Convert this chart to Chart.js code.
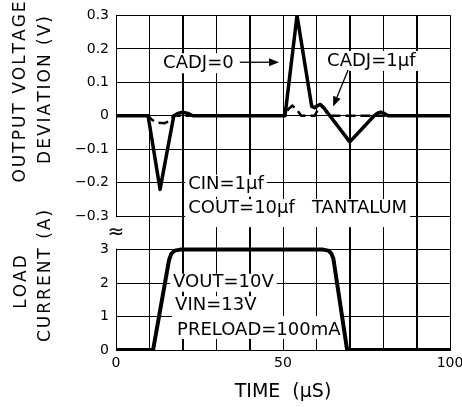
<!DOCTYPE html>
<html>
<head>
<meta charset="utf-8">
<script src="https://cdn.jsdelivr.net/npm/chart.js@4"></script>
<style>
  body { margin: 0; background: #fff; }
</style>
</head>
<body>
<canvas id="graphic" width="462" height="407"></canvas>
<script>
var timeLabels = [0, 50, 100];

// CADJ = 0 (solid)
var cadj0Time = [0, 9.6, 13.2, 17.3, 18.5, 20, 21.5, 23, 50.6, 54.2, 58.6, 59.5, 60.3, 61.2, 62.2, 70, 77.3, 78.3, 79.3, 80.3, 81.5, 100];
var cadj0Volt = [0, 0, -0.22, 0, 0.007, 0.011, 0.007, 0, 0, 0.3, 0.028, 0.024, 0.03, 0.034, 0.024, -0.078, 0, 0.008, 0.011, 0.007, 0, 0];

// CADJ = 1uF (dashed)
var cadj1Time = [0, 9.6, 10.8, 12, 14.5, 16, 17.3, 50.6, 51.6, 52.8, 54, 55.5, 59.5, 60.5, 61.5, 62.5, 63.5, 100];
var cadj1Volt = [0, 0, -0.012, -0.02, -0.022, -0.016, 0, 0, 0.02, 0.03, 0.02, 0, 0, 0.02, 0.028, 0.02, 0, 0];

// load current
var loadTime = [0, 11.1, 15.9, 16.6, 17.6, 19.2, 62, 63.6, 64.5, 65.1, 69.2, 100];
var loadAmps = [0, 0, 2.7, 2.88, 2.97, 3, 3, 2.97, 2.88, 2.72, 0, 0];

var FONT = "'DejaVu Sans', sans-serif";

function points(xs, ys) {
    return xs.map(function (x, i) { return { x: x, y: ys[i] }; });
}

var notes = [
    { text: 'CADJ=0', x: 14.1, y: 0.157, axis: 'y', padTop: 3, padBottom: 3 },
    { text: 'CADJ=1µf', x: 63.2, y: 0.164, axis: 'y', padTop: 3, padBottom: 3 },
    { text: 'CIN=1µf', x: 21.6, y: -0.206, axis: 'y', padTop: 3, padBottom: 5 },
    { text: 'COUT=10µf   TANTALUM', x: 21.6, y: -0.276, axis: 'y', padTop: 2, padBottom: 12 },
    { text: 'VOUT=10V', x: 17.1, y: 2.01, axis: 'y2', padTop: 2, padBottom: 2 },
    { text: 'VIN=13V', x: 17.7, y: 1.34, axis: 'y2', padTop: 2, padBottom: 5 },
    { text: 'PRELOAD=100mA', x: 18.3, y: 0.6, axis: 'y2', padTop: 7, padBottom: 2 }
];

var arrows = [
    { from: [37.1, 0.16], to: [48.8, 0.16] },
    { from: [69.5, 0.137], to: [65.0, 0.028] }
];

var sideTitles = [
    { text: 'OUTPUT VOLTAGE', x: 21, y: 92 },
    { text: 'DEVIATION (V)', x: 45.5, y: 90 },
    { text: 'LOAD', x: 21.5, y: 282 },
    { text: 'CURRENT (A)', x: 46, y: 276 }
];

// text drawn one character at a time, centred on 0,0, with extra spacing
function spacedText(ctx, text, spacing) {
    var chars = text.split('');
    var widths = chars.map(function (ch) { return ctx.measureText(ch).width; });
    var total = widths.reduce(function (a, b) { return a + b; }, 0) + spacing * (chars.length - 1);
    var x = -total / 2;
    ctx.textAlign = 'left';
    chars.forEach(function (ch, i) {
        ctx.fillText(ch, x, 0);
        x += widths[i] + spacing;
    });
}

var overlay = {
    id: 'overlay',
    beforeDatasetsDraw: function (chart) {
        var ctx = chart.ctx;
        var xs = chart.scales.x, ys = chart.scales.y, y2 = chart.scales.y2;
        var left = chart.chartArea.left;
        ctx.save();

        // break in the left axis between the two panels
        var gapTop = ys.getPixelForValue(-0.3) + 1, gapBottom = y2.getPixelForValue(3) - 1;
        ctx.fillStyle = '#fff';
        ctx.fillRect(left - 2, gapTop, 4, gapBottom - gapTop);
        ctx.fillStyle = '#000';
        ctx.font = '20px ' + FONT;
        ctx.textAlign = 'center';
        ctx.textBaseline = 'middle';
        ctx.fillText('\u2248', left, y2.getPixelForValue(3.5));

        // text notes on white boxes
        ctx.font = '18px ' + FONT;
        ctx.textAlign = 'left';
        notes.forEach(function (n) {
            var px = xs.getPixelForValue(n.x);
            var py = chart.scales[n.axis].getPixelForValue(n.y);
            var w = ctx.measureText(n.text).width;
            ctx.fillStyle = '#fff';
            ctx.fillRect(px - 3, py - 7 - n.padTop, w + 6, 14 + n.padTop + n.padBottom);
            ctx.fillStyle = '#000';
            ctx.fillText(n.text, px, py);
        });

        // arrows
        ctx.strokeStyle = '#000';
        arrows.forEach(function (a) {
            var x0 = xs.getPixelForValue(a.from[0]), y0 = ys.getPixelForValue(a.from[1]);
            var x1 = xs.getPixelForValue(a.to[0]), y1 = ys.getPixelForValue(a.to[1]);
            var ang = Math.atan2(y1 - y0, x1 - x0);
            var len = 10, half = 4;
            var bx = x1 - len * Math.cos(ang), by = y1 - len * Math.sin(ang);
            ctx.lineWidth = 1.3;
            ctx.beginPath();
            ctx.moveTo(x0, y0);
            ctx.lineTo(bx, by);
            ctx.stroke();
            ctx.beginPath();
            ctx.moveTo(x1, y1);
            ctx.lineTo(bx - half * Math.sin(ang), by + half * Math.cos(ang));
            ctx.lineTo(bx + half * Math.sin(ang), by - half * Math.cos(ang));
            ctx.closePath();
            ctx.fill();
        });

        // rotated axis titles
        ctx.font = '17px ' + FONT;
        sideTitles.forEach(function (t) {
            ctx.save();
            ctx.translate(t.x, t.y);
            ctx.rotate(-Math.PI / 2);
            spacedText(ctx, t.text, 2);
            ctx.restore();
        });
        ctx.restore();
    },
    afterDraw: function (chart) {
        // vertical grid lines at every time tick, painted behind what is already drawn,
        // so the white note boxes and the curves stay on top
        var ctx = chart.ctx;
        var xs = chart.scales.x, ys = chart.scales.y, y2 = chart.scales.y2;
        var area = chart.chartArea;
        var gapTop = ys.getPixelForValue(-0.3), gapBottom = y2.getPixelForValue(3);
        ctx.save();
        ctx.globalCompositeOperation = 'destination-over';
        ctx.fillStyle = '#000';
        xs.ticks.forEach(function (t) {
            var px = Math.round(xs.getPixelForValue(t.value));
            if (t.value === 0) {
                ctx.fillRect(px, area.top, 1, gapTop - area.top);
                ctx.fillRect(px, gapBottom, 1, area.bottom - gapBottom);
            } else {
                ctx.fillRect(px, area.top, 1, area.bottom - area.top);
            }
        });
        ctx.restore();
    }
};

function voltLabel(v) {
    if (Math.abs(v) < 1e-9) return '0';
    var s = Math.abs(v).toFixed(1);
    return v < 0 ? '\u2212' + s : s;
}

var tickFont = { family: FONT, size: 14 };

var ctx = document.getElementById('graphic').getContext('2d');

var graphic = new Chart(ctx, {
    type: 'line',
    data: {
        datasets: [{
            label: 'CADJ=0',
            data: points(cadj0Time, cadj0Volt),
            yAxisID: 'y',
            borderColor: '#000',
            borderWidth: 3.5,
            borderJoinStyle: 'round',
            pointRadius: 0,
            tension: 0
        }, {
            label: 'CADJ=1µf',
            data: points(cadj1Time, cadj1Volt),
            yAxisID: 'y',
            borderColor: '#000',
            borderWidth: 2.5,
            borderDash: [10, 5],
            pointRadius: 0,
            tension: 0
        }, {
            label: 'Load current',
            data: points(loadTime, loadAmps),
            yAxisID: 'y2',
            borderColor: '#000',
            borderWidth: 4,
            borderJoinStyle: 'round',
            pointRadius: 0,
            tension: 0
        }]
    },
    options: {
        responsive: false,
        animation: false,
        layout: { padding: { left: 0, right: 12, top: 15, bottom: 0 } },
        plugins: { legend: { display: false }, tooltip: { enabled: false } },
        scales: {
            x: {
                type: 'linear',
                min: 0,
                max: 100,
                ticks: {
                    stepSize: 10,
                    autoSkip: false,
                    maxRotation: 0,
                    padding: 5,
                    color: '#000',
                    font: tickFont,
                    callback: function (v) { return timeLabels.indexOf(v) >= 0 ? String(v) : ' '; }
                },
                grid: { drawTicks: false, color: '#000' },
                border: { color: '#000' },
                title: {
                    display: true,
                    text: 'TIME  (µS)',
                    color: '#000',
                    font: { family: FONT, size: 19 },
                    padding: { top: 0, bottom: 4 }
                },
                afterFit: function (s) { s.height = 57; s.paddingLeft = 0; s.paddingRight = 0; }
            },
            y2: {
                type: 'linear',
                position: 'left',
                stack: 'panels',
                stackWeight: 4,
                min: 0,
                max: 4,
                ticks: {
                    stepSize: 1,
                    autoSkip: false,
                    padding: 7,
                    color: '#000',
                    font: tickFont,
                    callback: function (v) { return v <= 3 ? String(v) : ''; }
                },
                grid: { drawTicks: false, color: '#000' },
                border: { display: false },
                afterFit: function (s) { s.width = 116; }
            },
            y: {
                type: 'linear',
                position: 'left',
                stack: 'panels',
                stackWeight: 6,
                min: -0.3,
                max: 0.3,
                ticks: {
                    stepSize: 0.1,
                    autoSkip: false,
                    padding: 7,
                    color: '#000',
                    font: tickFont,
                    callback: voltLabel
                },
                grid: { drawTicks: false, color: '#000' },
                border: { color: '#000' },
                afterFit: function (s) { s.width = 116; }
            }
        }
    },
    plugins: [overlay]
});
</script>
</body>
</html>
